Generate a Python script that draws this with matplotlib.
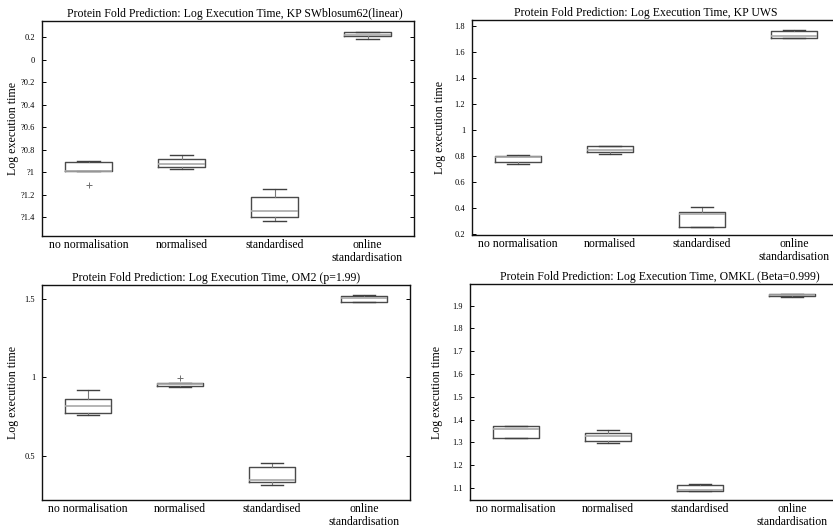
import matplotlib
matplotlib.use("Agg")
import matplotlib.pyplot as plt

plt.rcParams['font.family'] = ['Liberation Serif', 'DejaVu Serif']

categories = ["no normalisation", "normalised", "standardised", "online\nstandardisation"]

# box statistics per panel: lower whisker, q1, median, q3, upper whisker
kp_sw_lo = [-0.990, -0.976, -1.436, 0.185]
kp_sw_q1 = [-0.990, -0.956, -1.403, 0.215]
kp_sw_med = [-0.988, -0.926, -1.350, 0.224]
kp_sw_q3 = [-0.914, -0.887, -1.219, 0.244]
kp_sw_hi = [-0.899, -0.849, -1.148, 0.250]
kp_sw_out = [[-1.116], [], [], []]

kp_uws_lo = [0.739, 0.816, 0.259, 1.705]
kp_uws_q1 = [0.755, 0.832, 0.259, 1.705]
kp_uws_med = [0.792, 0.850, 0.360, 1.723]
kp_uws_q3 = [0.801, 0.878, 0.370, 1.761]
kp_uws_hi = [0.811, 0.878, 0.411, 1.772]
kp_uws_out = [[], [], [], []]

om2_lo = [0.762, 0.938, 0.315, 1.479]
om2_q1 = [0.770, 0.947, 0.330, 1.483]
om2_med = [0.819, 0.957, 0.345, 1.504]
om2_q3 = [0.864, 0.966, 0.428, 1.519]
om2_hi = [0.921, 0.966, 0.451, 1.528]
om2_out = [[], [0.998], [], []]

omkl_lo = [1.320, 1.296, 1.088, 1.938]
omkl_q1 = [1.320, 1.308, 1.088, 1.941]
omkl_med = [1.359, 1.326, 1.090, 1.945]
omkl_q3 = [1.370, 1.339, 1.115, 1.949]
omkl_hi = [1.370, 1.355, 1.119, 1.953]
omkl_out = [[], [], [], []]

titles = [
    "Protein Fold Prediction: Log Execution Time, KP SWblosum62(linear)",
    "Protein Fold Prediction: Log Execution Time, KP UWS",
    "Protein Fold Prediction: Log Execution Time, OM2 (p=1.99)",
    "Protein Fold Prediction: Log Execution Time, OMKL (Beta=0.999)",
]

yticks_kp_sw = [-1.4, -1.2, -1.0, -0.8, -0.6, -0.4, -0.2, 0.0, 0.2]
ylabels_kp_sw = ["?1.4", "?1.2", "?1", "?0.8", "?0.6", "?0.4", "?0.2", "0", "0.2"]
yticks_kp_uws = [0.2, 0.4, 0.6, 0.8, 1.0, 1.2, 1.4, 1.6, 1.8]
ylabels_kp_uws = ["0.2", "0.4", "0.6", "0.8", "1", "1.2", "1.4", "1.6", "1.8"]
yticks_om2 = [0.5, 1.0, 1.5]
ylabels_om2 = ["0.5", "1", "1.5"]
yticks_omkl = [1.1, 1.2, 1.3, 1.4, 1.5, 1.6, 1.7, 1.8, 1.9]
ylabels_omkl = ["1.1", "1.2", "1.3", "1.4", "1.5", "1.6", "1.7", "1.8", "1.9"]

panels = [
    (kp_sw_lo, kp_sw_q1, kp_sw_med, kp_sw_q3, kp_sw_hi, kp_sw_out, (-1.569, 0.345), yticks_kp_sw, ylabels_kp_sw),
    (kp_uws_lo, kp_uws_q1, kp_uws_med, kp_uws_q3, kp_uws_hi, kp_uws_out, (0.195, 1.846), yticks_kp_uws, ylabels_kp_uws),
    (om2_lo, om2_q1, om2_med, om2_q3, om2_hi, om2_out, (0.217, 1.589), yticks_om2, ylabels_om2),
    (omkl_lo, omkl_q1, omkl_med, omkl_q3, omkl_hi, omkl_out, (1.047, 1.995), yticks_omkl, ylabels_omkl),
]

W, H = 833, 528
# axes boxes in pixels: left, top, right, bottom (right column is cut off by the image edge)
boxes_px = [(42, 21, 414, 236), (472, 20, 840, 235), (42, 285, 410, 500), (470, 284, 838, 500)]
title_x = [0.519, 0.473, 0.473, 0.516]
ylabel_px = [19, 446, 19, 443]

fig = plt.figure(figsize=(W / 100, H / 100), dpi=100)

for i, (lo, q1, med, q3, hi, out, ylim, yt, yl) in enumerate(panels):
    l, t, r, b = boxes_px[i]
    ax = fig.add_axes([l / W, 1 - b / H, (r - l) / W, (b - t) / H])
    stats = []
    for j in range(len(categories)):
        stats.append(dict(whislo=lo[j], q1=q1[j], med=med[j], q3=q3[j], whishi=hi[j], fliers=out[j]))
    ax.bxp(stats, positions=[1, 2, 3, 4], widths=0.5, capwidths=0.24,
           boxprops=dict(color="#4a4a4a", linewidth=1.0),
           medianprops=dict(color="#a8a8a8", linewidth=1.2),
           whiskerprops=dict(color="#7a7a7a", linewidth=0.8),
           capprops=dict(color="#404040", linewidth=1.0),
           flierprops=dict(marker="+", markeredgecolor="#707070", markersize=5, markeredgewidth=0.7))
    ax.set_xlim(0.5, 4.5)
    ax.set_ylim(*ylim)
    ax.set_yticks(yt)
    ax.set_yticklabels(yl, fontsize=6)
    ax.set_xticks([1, 2, 3, 4])
    ax.set_xticklabels(categories, fontsize=8.5, linespacing=1.15)
    ax.tick_params(axis="x", length=0, pad=2)
    ax.tick_params(axis="y", direction="in", length=3, width=0.7, right=True, pad=5)
    ax.set_ylabel("Log execution time", fontsize=8.6)
    ax.yaxis.set_label_coords((ylabel_px[i] - l) / (r - l), 0.5)
    ax.set_title(titles[i], fontsize=8.5, x=title_x[i], pad=3)
    for sp in ax.spines.values():
        sp.set_linewidth(1.0)
        sp.set_color("#111111")

fig.savefig("out.png", dpi=100)
